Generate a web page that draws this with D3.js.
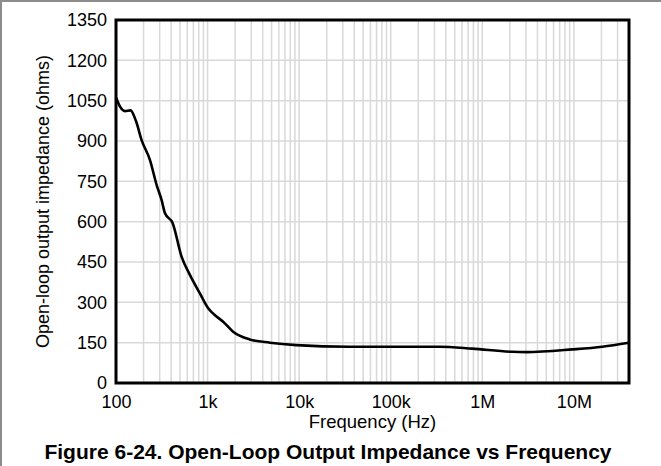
<!DOCTYPE html>
<html>
<head>
<meta charset="utf-8">
<script src="https://cdn.jsdelivr.net/npm/d3@7"></script>
<style>
  body { margin: 0; background: #fff; }
  text { font-family: "Liberation Sans", Arial, sans-serif; fill: #000; }
</style>
</head>
<body>
<div id="chart"></div>
<script>
// curve
var freqHz = [100, 112, 125, 144, 165, 190, 235, 278, 315, 342, 415, 520, 641, 822,
  1015, 1253, 1480, 1900, 2890, 4800, 9340, 35300, 342000, 777000, 2130000,
  3020000, 9600000, 20400000, 40000000];
var impedance = [1062, 1025, 1011, 1014, 975, 904, 829, 736, 680, 632, 595, 470, 402, 334,
  278, 247, 228, 191, 162, 150, 141, 135, 135, 128, 116,
  115, 125, 135, 150];

var yTicks = [0, 150, 300, 450, 600, 750, 900, 1050, 1200, 1350];
var xTicks = [1e2, 1e3, 1e4, 1e5, 1e6, 1e7];
var xTickLabels = ['100', '1k', '10k', '100k', '1M', '10M'];

var svgWidth = 661;
var svgHeight = 466;
var margin = { top: 20, right: 32, bottom: 83, left: 116 };
var width = svgWidth - margin.left - margin.right;
var height = svgHeight - margin.top - margin.bottom;

var svg = d3.select('#chart')
  .append('svg')
  .attr('width', svgWidth)
  .attr('height', svgHeight);

// grey outer border (top + left)
svg.append('path')
  .attr('d', 'M1,466 V1 H661')
  .attr('fill', 'none')
  .attr('stroke', '#8c8c8c')
  .attr('stroke-width', 2);

var chartGroup = svg.append('g')
  .attr('transform', `translate(${margin.left}, ${margin.top})`);

var x = d3.scaleLog().domain([100, 4e7]).range([0, width]);
var y = d3.scaleLinear().domain([0, 1350]).range([height, 0]);

// vertical grid: every 1..9 of each decade
var gridX = [];
for (var dec = 100; dec < 4e7; dec *= 10) {
  for (var m = 1; m < 10; m++) {
    var v = dec * m;
    if (v > 100 && v < 4e7) gridX.push(v);
  }
}

chartGroup.selectAll('.gx')
  .data(gridX)
  .enter()
  .append('line')
  .attr('x1', (d) => x(d))
  .attr('x2', (d) => x(d))
  .attr('y1', 0)
  .attr('y2', height)
  .attr('stroke', '#d9d9d9')
  .attr('stroke-width', 1.5);

chartGroup.selectAll('.gy')
  .data(yTicks.slice(1, -1))
  .enter()
  .append('line')
  .attr('x1', 0)
  .attr('x2', width)
  .attr('y1', (d) => y(d))
  .attr('y2', (d) => y(d))
  .attr('stroke', '#d9d9d9')
  .attr('stroke-width', 1.5);

// curve
var line = d3.line()
  .x((d, i) => x(freqHz[i]))
  .y((d) => y(d))
  .curve(d3.curveMonotoneX);

chartGroup.append('path')
  .datum(impedance)
  .attr('d', line)
  .attr('fill', 'none')
  .attr('stroke', '#000')
  .attr('stroke-width', 2.6)
  .attr('stroke-linejoin', 'round');

// frame
chartGroup.append('rect')
  .attr('width', width)
  .attr('height', height)
  .attr('fill', 'none')
  .attr('stroke', '#000')
  .attr('stroke-width', 3);

// y axis labels
var leftAxis = d3.axisLeft(y)
  .tickValues(yTicks)
  .tickFormat(d3.format('d'))
  .tickSize(0)
  .tickPadding(9);
var yAxis = chartGroup.append('g').call(leftAxis);
yAxis.select('.domain').remove();
yAxis.selectAll('text')
  .style('font-size', '18px')
  .style('font-family', '"Liberation Sans", Arial, sans-serif')
  .attr('fill', '#000');

// x axis labels
var bottomAxis = d3.axisBottom(x)
  .tickValues(xTicks)
  .tickFormat((d, i) => xTickLabels[i])
  .tickSize(0)
  .tickPadding(12);
var xAxis = chartGroup.append('g')
  .attr('transform', `translate(0, ${height})`)
  .call(bottomAxis);
xAxis.select('.domain').remove();
xAxis.selectAll('text')
  .style('font-size', '18px')
  .style('font-family', '"Liberation Sans", Arial, sans-serif')
  .attr('fill', '#000');

// axis titles
chartGroup.append('text')
  .attr('x', width / 2)
  .attr('y', height + 45)
  .attr('text-anchor', 'middle')
  .style('font-size', '18.5px')
  .text('Frequency (Hz)');

chartGroup.append('text')
  .attr('transform', 'rotate(-90)')
  .attr('x', -height / 2)
  .attr('y', -67)
  .attr('text-anchor', 'middle')
  .style('font-size', '18px')
  .text('Open-loop output impedance (ohms)');

// figure caption
svg.append('text')
  .attr('x', 328)
  .attr('y', 459)
  .attr('text-anchor', 'middle')
  .style('font-size', '21px')
  .style('font-weight', 'bold')
  .text('Figure 6-24. Open-Loop Output Impedance vs Frequency');
</script>
</body>
</html>
